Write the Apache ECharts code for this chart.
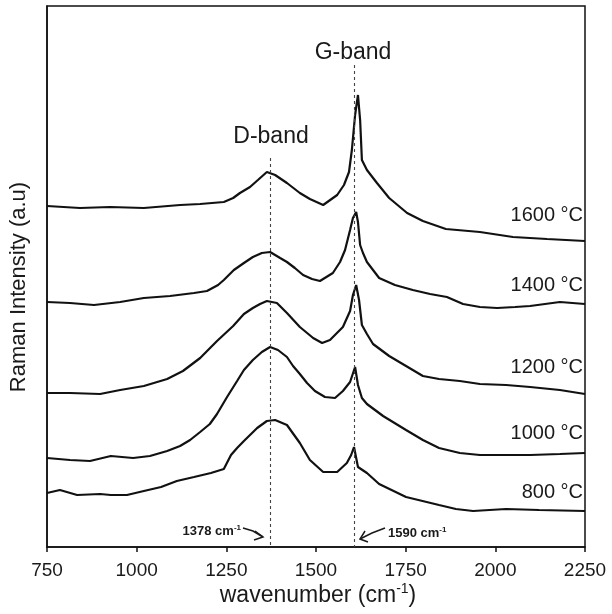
<!DOCTYPE html>
<html>
<head>
<meta charset="utf-8">
<script src="https://cdn.jsdelivr.net/npm/echarts@6/dist/echarts.min.js"></script>
<style>html,body{margin:0;padding:0;background:#fff}#c{width:612px;height:614px}</style>
</head>
<body>
<div id="c"></div>
<script>
// ---- data (wavenumber cm-1, intensity a.u. offset for stacking) ----
const xTicks = [750, 1000, 1250, 1500, 1750, 2000, 2250];
const tempLabels = ['1600 °C', '1400 °C', '1200 °C', '1000 °C', '800 °C'];
const bandLines = [1372, 1607];

const wn1600 = [750,842,926,1020,1121,1177,1243,1269,1288,1316,1338,1363,1386,1419,1455,1483,1520,1559,1578,1592,1600,1609,1617,1623,1628,1642,1670,1704,1754,1798,1862,1957,2049,2144,2250];
const in1600 = [341,339,340,339,342,343,345,349,354,360,367,375,372,364,354,348,342,352,362,375,397,432,452,427,387,377,364,349,334,326,318,315,310,308,306];

const wn1400 = [750,814,881,954,1020,1093,1160,1196,1227,1243,1271,1299,1324,1349,1372,1400,1419,1441,1464,1489,1511,1547,1567,1581,1595,1603,1612,1617,1623,1631,1642,1676,1720,1770,1818,1865,1910,1957,2005,2055,2097,2180,2250];
const in1400 = [245,244,242,245,249,251,254,256,262,267,277,284,290,294,295,289,285,279,272,268,266,274,285,297,317,329,335,325,302,294,285,269,262,257,253,250,243,240,239,240,241,245,243];

const wn1200 = [750,814,898,954,1020,1085,1129,1177,1224,1269,1299,1324,1344,1363,1391,1419,1455,1492,1517,1539,1575,1595,1603,1612,1620,1628,1642,1659,1704,1751,1798,1843,1901,1957,2030,2097,2180,2250];
const in1200 = [154,154,153,157,161,168,176,189,206,221,233,239,243,246,244,234,220,209,204,207,220,236,252,262,247,222,213,203,191,181,171,168,166,163,162,160,157,153];

const wn1000 = [750,814,870,928,990,1037,1085,1121,1149,1177,1204,1224,1252,1280,1299,1324,1349,1372,1394,1419,1436,1455,1475,1497,1525,1553,1575,1595,1609,1617,1628,1642,1687,1751,1798,1843,1901,1957,2030,2097,2180,2250];
const in1000 = [89,87,86,91,89,91,96,101,107,115,123,133,150,166,177,187,195,200,197,190,181,173,164,156,150,149,156,165,180,162,149,143,131,117,107,99,94,92,92,92,93,94];

const wn800 = [750,786,834,898,928,973,1020,1068,1112,1160,1207,1243,1263,1280,1299,1336,1363,1386,1419,1455,1483,1520,1559,1586,1598,1606,1617,1642,1676,1751,1843,1890,1938,2030,2122,2250];
const in800 = [54,57,52,53,52,52,56,60,66,70,74,78,92,99,106,119,126,127,122,104,87,75,75,84,92,100,80,74,63,50,42,38,36,38,37,36];

const seriesX = [wn1600, wn1400, wn1200, wn1000, wn800];
const seriesY = [in1600, in1400, in1200, in1000, in800];

const chart = echarts.init(document.getElementById('c'), null, {renderer: 'canvas'});
const FONT = '"Liberation Sans", Arial, sans-serif';
const INK = '#1a1a1a';

const series = seriesX.map((xs, i) => ({
  type: 'line',
  name: tempLabels[i],
  data: xs.map((x, j) => [x, seriesY[i][j]]),
  showSymbol: false,
  smooth: false,
  lineStyle: {color: '#111', width: 2.2},
  z: 3
}));

series.push({
  type: 'line',
  data: [],
  markLine: {
    silent: true,
    symbol: 'none',
    label: {show: false},
    lineStyle: {color: '#444', type: [3, 3], width: 1.1},
    data: [
      [{coord: [bandLines[0], 389]}, {coord: [bandLines[0], 0]}],
      [{coord: [bandLines[1], 482]}, {coord: [bandLines[1], 0]}]
    ]
  }
});

function txt(x, y, text, font, align, extra) {
  return Object.assign({
    type: 'text', x: x, y: y,
    style: {text: text, font: font, fill: INK, align: align || 'center', verticalAlign: 'middle',
            textAlign: align || 'center', textVerticalAlign: 'middle'}
  }, extra || {});
}

const labelY = [215, 285, 367, 433, 492];
const graphics = tempLabels.map((t, i) => txt(583, labelY[i], t, '20px ' + FONT, 'right'));

const supRich = (size, sub, bold) => ({
  n: {font: (bold ? 'bold ' : '') + size + 'px ' + FONT, fill: INK},
  s: {font: (bold ? 'bold ' : '') + sub + 'px ' + FONT, fill: INK, padding: [0, 0, Math.round(size * 0.55), 0]}
});

graphics.push(
  txt(271, 137, 'D-band', '23px ' + FONT),
  txt(353, 53, 'G-band', '23px ' + FONT),
  // x axis title
  {type: 'text', x: 318, y: 596,
   style: {rich: supRich(23, 14, false), text: '{n|wavenumber (cm}{s|-1}{n|)}',
           align: 'center', verticalAlign: 'middle', textAlign: 'center', textVerticalAlign: 'middle'}},
  // y axis title
  txt(19, 287, 'Raman Intensity (a.u)', '22px ' + FONT, 'center', {rotation: Math.PI / 2}),
  // 1378 annotation
  {type: 'text', x: 241, y: 531,
   style: {rich: supRich(13, 8, true), text: '{n|1378 cm}{s|-1}',
           align: 'right', verticalAlign: 'middle', textAlign: 'right', textVerticalAlign: 'middle'}},
  {type: 'polyline', shape: {points: [[243, 528], [253, 531], [263, 537]]}, style: {stroke: INK, lineWidth: 1.5, fill: 'none'}},
  {type: 'polyline', shape: {points: [[255, 531], [263, 537], [254, 540]]}, style: {stroke: INK, lineWidth: 1.5, fill: 'none'}},
  // 1590 annotation
  {type: 'polyline', shape: {points: [[385, 528], [372, 533], [360, 539]]}, style: {stroke: INK, lineWidth: 1.5, fill: 'none'}},
  {type: 'polyline', shape: {points: [[365, 531], [360, 539], [368, 542]]}, style: {stroke: INK, lineWidth: 1.5, fill: 'none'}},
  {type: 'text', x: 388, y: 533,
   style: {rich: supRich(13, 8, true), text: '{n|1590 cm}{s|-1}',
           align: 'left', verticalAlign: 'middle', textAlign: 'left', textVerticalAlign: 'middle'}}
);

chart.setOption({
  animation: false,
  backgroundColor: '#fff',
  grid: {left: 47, right: 27, top: 6, bottom: 67, show: true, borderColor: '#111', borderWidth: 1.5, backgroundColor: 'transparent'},
  xAxis: {
    type: 'value', min: xTicks[0], max: xTicks[xTicks.length - 1], interval: 250,
    axisLine: {lineStyle: {color: '#111', width: 1.5}},
    axisTick: {show: true, inside: false, length: 5, lineStyle: {color: '#111', width: 1.5}},
    axisLabel: {fontSize: 19, color: INK, fontFamily: FONT, margin: 14, formatter: v => String(v)},
    splitLine: {show: false}
  },
  yAxis: {
    type: 'value', min: 0, max: 541,
    axisLine: {show: true, lineStyle: {color: '#111', width: 1.5}},
    axisTick: {show: false}, axisLabel: {show: false}, splitLine: {show: false}
  },
  series: series,
  graphic: graphics
});
</script>
</body>
</html>
